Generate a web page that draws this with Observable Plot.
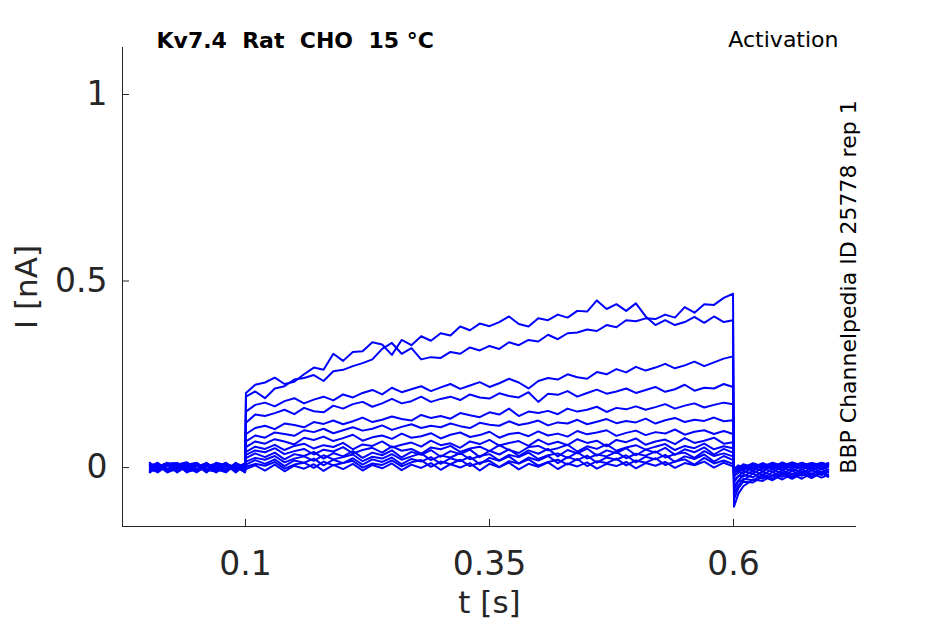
<!DOCTYPE html>
<html><head><meta charset="utf-8">
<script src="https://cdn.jsdelivr.net/npm/d3@7"></script>
<script src="https://cdn.jsdelivr.net/npm/@observablehq/plot@0.6"></script>
<style>body{margin:0;background:#fff}</style>
</head><body><div id="chart"></div>
<script>
// sample times [s]
const times = [0.002,0.01,0.02,0.03,0.04,0.05,0.06,0.07,0.08,0.09,0.0995,
0.1005,0.11,0.12,0.13,0.14,0.15,0.16,0.17,0.18,0.19,0.20,0.21,0.22,0.23,0.24,0.25,0.26,0.27,0.28,0.29,
0.30,0.31,0.32,0.33,0.34,0.35,0.36,0.37,0.38,0.39,0.40,0.41,0.42,0.43,0.44,0.45,0.46,0.47,0.48,0.49,
0.50,0.51,0.52,0.53,0.54,0.55,0.56,0.57,0.58,0.59,0.5995,
0.6005,0.605,0.61,0.62,0.63,0.64,0.65,0.66,0.67,0.68,0.69,0.697];

// current traces [nA], one per sweep
const sweep01 = [0.006,-0.009,0.012,-0.006,0.01,-0.012,0.003,0.011,-0.008,0.005,-0.003,
0.20,0.222,0.228,0.241,0.224,0.23,0.25,0.268,0.262,0.305,
0.286,0.31,0.312,0.336,0.33,0.302,0.342,0.328,0.352,0.34,
0.36,0.354,0.378,0.368,0.386,0.379,0.39,0.405,0.385,0.378,
0.4,0.395,0.41,0.402,0.42,0.418,0.448,0.425,0.438,0.42,
0.44,0.405,0.382,0.395,0.382,0.39,0.404,0.388,0.405,0.39,0.395,
-0.085,-0.055,-0.038,-0.04,-0.024,-0.034,-0.018,-0.03,-0.016,-0.028,-0.014,-0.025];
const sweep02 = [-0.008,0.011,-0.005,0.013,-0.009,0.006,-0.013,0.008,0.003,-0.009,0.006,
0.19,0.204,0.186,0.212,0.218,0.236,0.24,0.248,0.232,0.258,
0.262,0.272,0.28,0.29,0.318,0.334,0.305,0.32,0.29,0.296,
0.294,0.31,0.305,0.322,0.314,0.326,0.318,0.336,0.328,0.342,
0.338,0.356,0.344,0.36,0.362,0.37,0.366,0.382,0.376,0.395,
0.392,0.4,0.398,0.41,0.402,0.43,0.415,0.438,0.436,0.455,0.466,
-0.105,-0.07,-0.05,-0.032,-0.036,-0.02,-0.032,-0.017,-0.03,-0.015,-0.027,-0.02];
const sweep03 = [0.012,-0.003,0.008,-0.013,0.005,0.013,-0.006,-0.011,0.009,0.002,-0.012,
0.15,0.168,0.174,0.164,0.178,0.186,0.172,0.182,0.19,0.18,
0.196,0.188,0.2,0.208,0.196,0.214,0.202,0.21,0.218,0.205,
0.215,0.224,0.211,0.22,0.229,0.216,0.226,0.238,0.228,0.212,
0.232,0.24,0.236,0.25,0.242,0.238,0.256,0.25,0.264,0.255,
0.27,0.26,0.268,0.278,0.266,0.274,0.284,0.272,0.282,0.292,0.298,
-0.07,-0.048,-0.03,-0.034,-0.018,-0.03,-0.013,-0.026,-0.011,-0.024,-0.01,-0.02];
const sweep04 = [-0.012,0.005,-0.009,0.008,0.014,-0.005,0.009,-0.003,-0.013,0.011,0.003,
0.12,0.142,0.138,0.146,0.155,0.143,0.16,0.151,0.148,0.166,
0.158,0.17,0.176,0.163,0.172,0.184,0.172,0.178,0.19,0.176,
0.184,0.19,0.181,0.196,0.188,0.185,0.199,0.192,0.188,0.202,
0.176,0.198,0.195,0.205,0.19,0.2,0.209,0.198,0.204,0.212,
0.2,0.208,0.216,0.203,0.21,0.222,0.206,0.214,0.212,0.224,0.216,
-0.06,-0.036,-0.034,-0.016,-0.03,-0.012,-0.025,-0.009,-0.022,-0.007,-0.02,-0.01];
const sweep05 = [0.003,0.013,-0.012,0.002,-0.008,0.011,-0.009,0.013,0.006,-0.012,0.009,
0.09,0.106,0.112,0.103,0.118,0.114,0.108,0.122,0.117,0.126,
0.116,0.124,0.134,0.122,0.128,0.137,0.13,0.126,0.141,0.133,
0.138,0.131,0.146,0.14,0.135,0.148,0.142,0.158,0.138,0.15,
0.146,0.152,0.143,0.158,0.15,0.155,0.163,0.149,0.16,0.156,
0.164,0.155,0.162,0.17,0.158,0.166,0.172,0.161,0.168,0.174,0.17,
-0.05,-0.035,-0.02,-0.026,-0.01,-0.023,-0.007,-0.02,-0.004,-0.018,-0.003,-0.014];
const sweep06 = [-0.005,-0.012,0.009,0.011,-0.013,0.003,0.012,-0.006,-0.011,0.013,-0.006,
0.07,0.086,0.08,0.094,0.09,0.085,0.1,0.095,0.104,0.092,
0.1,0.108,0.099,0.104,0.113,0.101,0.109,0.116,0.106,0.112,
0.108,0.118,0.111,0.106,0.12,0.115,0.112,0.124,0.114,0.119,
0.126,0.113,0.121,0.118,0.128,0.116,0.123,0.13,0.119,0.125,
0.121,0.131,0.118,0.127,0.133,0.122,0.128,0.125,0.134,0.124,0.127,
-0.04,-0.022,-0.024,-0.008,-0.02,-0.004,-0.017,-0.002,-0.015,0.0,-0.013,-0.005];
const sweep07 = [0.009,0.006,-0.013,-0.003,0.012,-0.009,0.005,0.002,0.013,-0.005,0.011,
0.055,0.07,0.064,0.076,0.07,0.062,0.08,0.074,0.083,0.071,
0.079,0.088,0.072,0.081,0.086,0.077,0.091,0.08,0.084,0.092,
0.078,0.088,0.094,0.082,0.087,0.096,0.08,0.09,0.093,0.084,
0.097,0.086,0.091,0.083,0.098,0.089,0.094,0.1,0.085,0.093,
0.099,0.087,0.095,0.091,0.102,0.088,0.096,0.1,0.09,0.098,0.09,
-0.032,-0.024,-0.01,-0.016,0.0,-0.012,0.002,-0.01,0.004,-0.008,0.003,-0.006];
const sweep08 = [-0.011,0.002,0.013,-0.009,0.003,0.008,-0.012,0.009,-0.003,0.008,-0.009,
0.042,0.056,0.05,0.061,0.047,0.058,0.064,0.051,0.06,0.055,
0.066,0.049,0.062,0.058,0.07,0.054,0.061,0.067,0.056,0.072,
0.06,0.065,0.053,0.07,0.063,0.074,0.059,0.066,0.071,0.058,
0.075,0.062,0.069,0.06,0.076,0.066,0.072,0.057,0.074,0.068,
0.078,0.061,0.07,0.075,0.063,0.079,0.066,0.072,0.08,0.064,0.068,
-0.025,-0.01,-0.016,0.002,-0.011,0.005,-0.008,0.007,-0.006,0.008,-0.004,0.004];
const sweep09 = [0.013,-0.008,0.003,0.009,-0.011,-0.006,0.011,-0.013,0.005,-0.002,0.012,
0.034,0.046,0.041,0.052,0.036,0.044,0.05,0.035,0.048,0.043,
0.055,0.038,0.047,0.053,0.04,0.057,0.045,0.05,0.037,0.054,
0.049,0.058,0.042,0.051,0.056,0.044,0.06,0.047,0.039,0.055,
0.058,0.046,0.052,0.061,0.043,0.057,0.05,0.062,0.045,0.054,
0.06,0.048,0.056,0.063,0.047,0.058,0.052,0.064,0.049,0.057,0.052,
-0.02,-0.014,0.0,-0.008,0.007,-0.005,0.008,-0.003,0.01,-0.002,0.009,0.001];
const sweep10 = [-0.002,0.009,-0.011,0.005,0.008,0.012,-0.003,0.006,-0.012,0.009,-0.005,
0.025,0.038,0.028,0.04,0.022,0.036,0.031,0.042,0.024,0.039,
0.03,0.044,0.026,0.04,0.033,0.046,0.027,0.042,0.034,0.047,
0.029,0.044,0.036,0.048,0.028,0.045,0.035,0.049,0.031,0.046,
0.037,0.05,0.03,0.047,0.038,0.051,0.032,0.046,0.039,0.052,
0.033,0.048,0.04,0.053,0.034,0.049,0.041,0.054,0.035,0.05,0.04,
-0.015,-0.002,-0.008,0.008,-0.004,0.01,-0.002,0.011,0.0,0.012,0.001,0.009];
const sweep11 = [0.008,-0.013,0.006,-0.011,0.002,-0.013,0.013,-0.005,0.011,-0.008,0.002,
0.016,0.026,0.021,0.031,0.014,0.024,0.03,0.018,0.033,0.022,
0.028,0.035,0.017,0.029,0.024,0.036,0.021,0.03,0.038,0.02,
0.032,0.027,0.039,0.022,0.031,0.036,0.019,0.034,0.028,0.04,
0.023,0.033,0.038,0.026,0.041,0.024,0.035,0.03,0.042,0.025,
0.037,0.032,0.043,0.027,0.036,0.04,0.026,0.044,0.031,0.038,0.03,
-0.012,-0.008,0.005,-0.003,0.011,0.0,0.012,0.002,0.013,0.003,0.012,0.006];
const sweep12 = [-0.013,0.003,0.011,0.012,-0.005,0.005,-0.008,0.012,-0.006,0.003,-0.013,
0.008,0.02,0.01,0.022,0.004,0.019,0.013,0.024,0.006,0.021,
0.012,0.025,0.008,0.022,0.015,0.027,0.009,0.023,0.016,0.028,
0.01,0.025,0.017,0.029,0.009,0.026,0.018,0.03,0.011,0.027,
0.019,0.031,0.012,0.028,0.02,0.032,0.013,0.027,0.021,0.033,
0.014,0.029,0.022,0.034,0.015,0.03,0.023,0.035,0.016,0.031,0.02,
-0.009,0.002,-0.004,0.01,-0.002,0.012,0.001,0.013,0.003,0.011,0.005,0.012];
const sweep13 = [0.002,0.012,-0.006,-0.008,0.013,-0.011,0.008,-0.009,0.012,-0.013,0.008,
0.002,0.01,0.005,0.015,-0.003,0.008,0.013,-0.001,0.016,0.006,
0.012,0.018,0.0,0.011,0.007,0.019,0.003,0.014,0.02,0.002,
0.016,0.009,0.021,0.004,0.013,0.018,0.001,0.017,0.011,0.022,
0.005,0.015,0.021,0.008,0.023,0.004,0.017,0.012,0.024,0.006,
0.019,0.013,0.025,0.007,0.016,0.022,0.008,0.026,0.011,0.019,0.01,
-0.006,-0.002,0.009,0.001,0.012,0.002,0.014,0.004,0.012,0.005,0.013,0.008];
const sweep14 = [-0.006,-0.005,0.005,0.006,-0.012,0.009,-0.011,0.003,-0.009,0.012,-0.011,
-0.004,0.006,-0.008,0.008,-0.01,0.005,-0.003,0.009,-0.009,0.007,
-0.004,0.01,-0.008,0.007,-0.002,0.011,-0.007,0.008,-0.001,0.012,
-0.006,0.009,0.0,0.012,-0.008,0.01,0.001,0.013,-0.005,0.01,
0.002,0.014,-0.004,0.011,0.003,0.014,-0.003,0.01,0.004,0.015,
-0.002,0.012,0.005,0.015,-0.001,0.012,0.006,0.016,0.0,0.013,0.003,
-0.004,0.006,0.0,0.012,0.003,0.013,0.005,0.014,0.006,0.012,0.007,0.011];

const sweeps = [sweep01,sweep02,sweep03,sweep04,sweep05,sweep06,sweep07,
                sweep08,sweep09,sweep10,sweep11,sweep12,sweep13,sweep14];

const xTicks = [0.1, 0.35, 0.6];
const yTicks = [0, 0.5, 1];
const xDomain = [-0.026, 0.726];
const yDomain = [-0.158, 1.126];
const titleText = "Kv7.4\u00a0 Rat\u00a0 CHO\u00a0 15 °C";
const protocolText = "Activation";
const sourceText = "BBP Channelpedia ID 25778 rep 1";
const xLabel = "t [s]";
const yLabel = "I [nA]";

const data = sweeps.flatMap((s, k) => s.map((v, j) => ({t: times[j], i: v, sweep: k})));
sweeps.forEach((s,k)=>{ if (s.length !== times.length) console.warn("sweep", k+1, s.length); });

const axisColor = "#262626";
const chart = Plot.plot({
  width: 945,
  height: 624,
  marginLeft: 122,
  marginRight: 89,
  marginTop: 47,
  marginBottom: 98,
  style: {fontFamily: "DejaVu Sans", background: "#fff"},
  x: {domain: xDomain},
  y: {domain: yDomain},
  marks: [
    Plot.line(data, {x: "t", y: "i", z: "sweep", stroke: "#0000ff", strokeWidth: 2, strokeLinejoin: "round"}),
    Plot.ruleY([yDomain[0]], {stroke: axisColor, strokeWidth: 1}),
    Plot.ruleX([xDomain[0]], {stroke: axisColor, strokeWidth: 1}),
    Plot.ruleX(xTicks, {y1: yDomain[0], y2: yDomain[0] + 0.019, stroke: axisColor}),
    Plot.ruleY(yTicks, {x1: xDomain[0], x2: xDomain[0] + 0.0072, stroke: axisColor}),
    Plot.axisX(xTicks, {tickSize: 0, tickPadding: 25, fontSize: 33, fill: axisColor, label: null, tickFormat: d => String(d)}),
    Plot.axisY(yTicks, {tickSize: 0, tickPadding: 15, fontSize: 33, fill: axisColor, label: null, tickFormat: d => String(d)}),
    Plot.text([xLabel], {frameAnchor: "bottom", dy: 77, textAnchor: "middle", lineAnchor: "middle", fontSize: 31, fill: axisColor}),
    Plot.text([yLabel], {frameAnchor: "left", dx: -95, rotate: -90, textAnchor: "middle", lineAnchor: "middle", fontSize: 31, fill: axisColor}),
    Plot.text([titleText], {frameAnchor: "top-left", dx: 34, dy: 0, textAnchor: "start", lineAnchor: "bottom", fontSize: 22, fontWeight: "bold", fill: "#000"}),
    Plot.text([protocolText], {frameAnchor: "top-right", dx: -18, dy: -1, textAnchor: "end", lineAnchor: "bottom", fontSize: 22, fill: "#000"}),
    Plot.text([sourceText], {frameAnchor: "right", dx: -8, rotate: -90, textAnchor: "middle", lineAnchor: "middle", fontSize: 22, fill: "#000"})
  ]
});
document.getElementById("chart").append(chart);
</script>
</body></html>
